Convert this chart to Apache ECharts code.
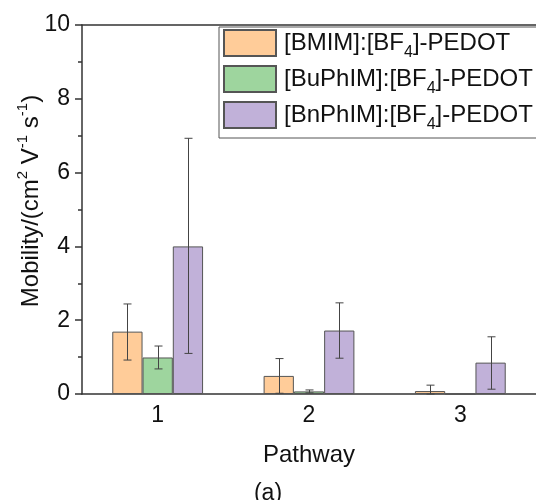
<!DOCTYPE html>
<html>
<head>
<meta charset="utf-8">
<script src="https://cdn.jsdelivr.net/npm/echarts@6/dist/echarts.min.js"></script>
<style>html,body{margin:0;padding:0;background:#fff}#c{width:536px;height:500px}</style>
</head>
<body>
<div id="c"></div>
<script>
const categories = ['1', '2', '3'];
const seriesNames = ['[BMIM]:[BF4]-PEDOT', '[BuPhIM]:[BF4]-PEDOT', '[BnPhIM]:[BF4]-PEDOT'];
const yTicks = [0, 2, 4, 6, 8, 10];
const bmimValues = [1.69, 0.49, 0.08];
const buphimValues = [0.99, 0.07, 0];
const bnphimValues = [4.0, 1.72, 0.85];
const bmimLow = [0.92, 0.02, 0.0];
const bmimHigh = [2.44, 0.96, 0.24];
const buphimLow = [0.68, 0.03, null];
const buphimHigh = [1.30, 0.11, null];
const bnphimLow = [1.10, 0.97, 0.13];
const bnphimHigh = [6.93, 2.47, 1.55];

const colors = ['#FFCC99', '#9ED59E', '#C1B1D9'];
const values = [bmimValues, buphimValues, bnphimValues];
const lows = [bmimLow, buphimLow, bnphimLow];
const highs = [bmimHigh, buphimHigh, bnphimHigh];

const chart = echarts.init(document.getElementById('c'), null, {renderer: 'canvas'});
const FONT = 'Liberation Sans, Arial, sans-serif';

function errSeries(k) {
  const data = [];
  categories.forEach((c, i) => {
    if (lows[k][i] !== null && highs[k][i] !== null) data.push([i, lows[k][i], highs[k][i]]);
  });
  return {
    type: 'custom',
    z: 10,
    silent: true,
    data: data,
    renderItem: function (params, api) {
      const x = api.value(0);
      const lo = api.value(1), hi = api.value(2);
      const band = api.size([1, 0])[0];
      const bw = band * 0.2;
      const off = (k - 1) * bw;
      const pt = api.coord([x, hi]);
      const pb = api.coord([x, lo]);
      const cx = Math.round(pt[0] + off) + 0.5;
      const cap = 4;
      const st = {stroke: '#444', lineWidth: 1};
      return {
        type: 'group',
        children: [
          {type: 'line', shape: {x1: cx, y1: pt[1], x2: cx, y2: pb[1]}, style: st},
          {type: 'line', shape: {x1: cx - cap, y1: pt[1], x2: cx + cap, y2: pt[1]}, style: st},
          {type: 'line', shape: {x1: cx - cap, y1: pb[1], x2: cx + cap, y2: pb[1]}, style: st}
        ]
      };
    }
  };
}

const barSeries = seriesNames.map((n, k) => ({
  name: n,
  type: 'bar',
  data: values[k],
  barWidth: '20%',
  barGap: '0%',
  itemStyle: {color: colors[k], borderColor: '#555', borderWidth: 1}
}));

const option = {
  animation: false,
  backgroundColor: '#fff',
  textStyle: {fontFamily: FONT},
  title: {
    text: '(a)',
    left: 'center',
    top: 477,
    textStyle: {fontFamily: FONT, fontSize: 23, fontWeight: 'normal', color: '#111'}
  },
  grid: {left: 82, top: 25, width: 456, height: 369},
  legend: {
    orient: 'vertical',
    left: 219,
    top: 27,
    data: seriesNames,
    icon: 'rect',
    itemWidth: 52,
    itemHeight: 26,
    itemGap: 4,
    padding: [2, 12, 5, 4],
    borderColor: '#555',
    borderWidth: 1,
    backgroundColor: '#fff',
    formatter: function (name) {
      const parts = name.split('4');
      return '{t|' + parts[0] + '}{s|4}{t|' + parts[1] + '}';
    },
    textStyle: {
      fontFamily: FONT,
      color: '#111',
      rich: {
        t: {fontSize: 24, fontFamily: FONT, color: '#111', lineHeight: 26, verticalAlign: 'middle'},
        s: {fontSize: 16, fontFamily: FONT, color: '#111', verticalAlign: 'bottom', lineHeight: 26, padding: [0, 0, -5, 0]}
      },
      padding: [0, 0, 0, 3]
    }
  },
  xAxis: [{
    type: 'category',
    data: categories,
    position: 'bottom',
    axisLine: {lineStyle: {color: '#333', width: 1.5}},
    axisTick: {show: false},
    axisLabel: {fontFamily: FONT, fontSize: 23, color: '#111', margin: 10},
    name: 'Pathway',
    nameLocation: 'middle',
    nameGap: 49,
    nameTextStyle: {fontFamily: FONT, fontSize: 24, color: '#111'}
  }, {
    type: 'category',
    data: categories,
    position: 'top',
    axisLine: {lineStyle: {color: '#333', width: 1.5}},
    axisTick: {show: false},
    axisLabel: {show: false}
  }],
  yAxis: {
    type: 'value',
    min: yTicks[0],
    max: yTicks[yTicks.length - 1],
    interval: 2,
    axisLine: {show: true, lineStyle: {color: '#333', width: 1.5}},
    axisTick: {show: true, length: 7, lineStyle: {color: '#333', width: 1.5}},
    minorTick: {show: true, splitNumber: 2, length: 4, lineStyle: {color: '#333', width: 1.5}},
    splitLine: {show: false},
    axisLabel: {fontFamily: FONT, fontSize: 23, color: '#111', margin: 12}
  },
  graphic: [{
    type: 'text',
    x: 29,
    y: 201,
    rotation: Math.PI / 2,
    style: {
      text: '{t|Mobility/(cm}{p|2}{t| V}{p|-1}{t| s}{p|-1}{t|)}',
      align: 'center',
      verticalAlign: 'middle',
      rich: {
        t: {fontSize: 24, fontFamily: FONT, fill: '#111', lineHeight: 28, verticalAlign: 'bottom'},
        p: {fontSize: 15, fontFamily: FONT, fill: '#111', lineHeight: 28, verticalAlign: 'top'}
      }
    }
  }],
  series: barSeries.concat([errSeries(0), errSeries(1), errSeries(2)])
};
chart.setOption(option);
</script>
</body>
</html>
